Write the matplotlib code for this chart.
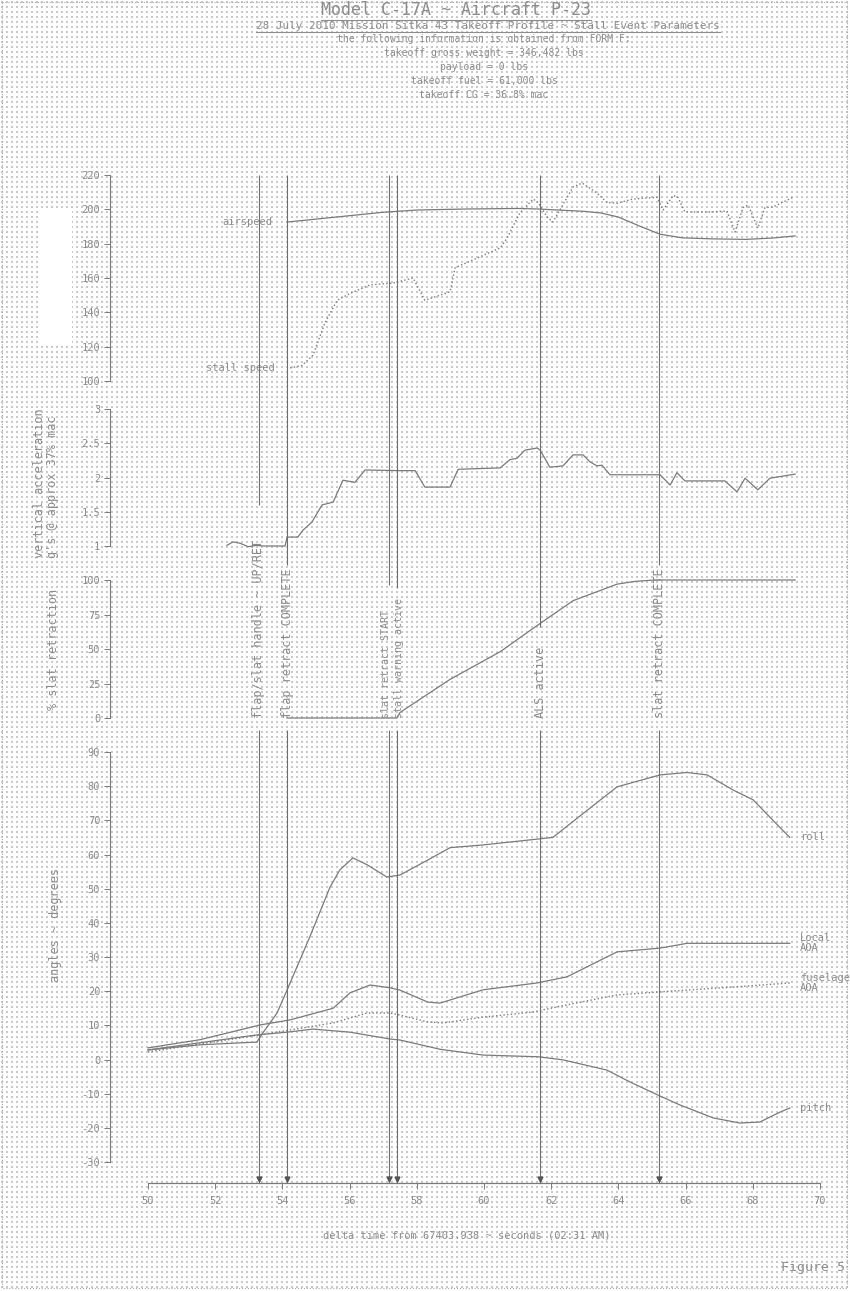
import numpy as np
import matplotlib
matplotlib.use("Agg")
import matplotlib.pyplot as plt
import matplotlib.transforms as mtransforms
from matplotlib.patches import Rectangle
from matplotlib.lines import Line2D

# ---- datos ----
event_t = [53.30, 54.14, 57.17, 57.41, 61.67, 65.21]
event_labels = ["flap/slat handle ~ UP/RET", "flap retract COMPLETE", "slat retract START",
                "stall warning active", "ALS active", "slat retract COMPLETE"]

airspeed_t = [54.14, 55.0, 56.0, 57.0, 58.0, 59.5, 61.0, 61.6, 62.3, 63.0, 63.5, 64.0,
              64.6, 65.24, 65.9, 66.8, 67.8, 68.6, 69.26]
airspeed_v = [192.6, 194.3, 196.3, 198.3, 199.6, 200.2, 200.5, 200.2, 199.5, 198.8, 197.8,
              195.5, 190.5, 185.5, 183.4, 182.8, 182.5, 183.3, 184.5]

stall_t = [54.23, 54.58, 54.91, 55.27, 55.63, 56.01, 56.61, 57.29, 57.89, 58.24, 58.99,
           59.14, 60.48, 60.68, 61.07, 61.46, 61.61, 61.88, 62.05, 62.26, 62.65, 62.92,
           63.36, 63.66, 63.96, 64.43, 65.15, 65.33, 65.63, 65.77, 65.98, 66.73, 67.23,
           67.47, 67.71, 67.86, 68.15, 68.36, 68.6, 69.2]
stall_v = [107.6, 109.0, 115.0, 134.0, 147.0, 151.0, 156.0, 157.0, 160.0, 147.0, 152.0,
           166.0, 177.5, 183.0, 198.0, 206.0, 204.0, 195.5, 192.6, 199.6, 213.0, 215.3,
           209.5, 204.0, 203.5, 206.0, 207.0, 199.6, 208.0, 207.0, 198.5, 198.5, 199.0,
           186.8, 201.0, 202.5, 189.0, 201.0, 201.4, 207.0]

vacc_t = [52.35, 52.53, 52.74, 52.98, 53.24, 53.42, 54.08, 54.14, 54.46, 54.61, 54.88,
          55.18, 55.51, 55.71, 55.8, 56.16, 56.46, 57.5, 57.95, 58.24, 58.99, 59.23, 60.48,
          60.77, 60.98, 61.22, 61.58, 61.67, 61.96, 62.35, 62.65, 62.95, 63.15, 63.36,
          63.51, 63.75, 65.24, 65.54, 65.74, 65.98, 67.17, 67.53, 67.77, 68.15, 68.51,
          68.9, 69.26]
vacc_v = [1.01, 1.06, 1.04, 0.99, 1.01, 1.0, 1.0, 1.13, 1.13, 1.23, 1.35, 1.6, 1.64, 1.86,
          1.96, 1.93, 2.11, 2.1, 2.1, 1.86, 1.86, 2.12, 2.14, 2.26, 2.28, 2.4, 2.43, 2.4,
          2.15, 2.17, 2.33, 2.33, 2.23, 2.17, 2.18, 2.04, 2.04, 1.89, 2.07, 1.95, 1.95,
          1.79, 1.99, 1.82, 1.99, 2.02, 2.05]

slat_t = [54.14, 57.41, 57.5, 58.99, 60.48, 61.58, 62.65, 63.96, 64.5, 65.07, 69.26]
slat_v = [0, 0, 4, 28, 48, 67, 85, 97, 99, 100, 100]

roll_t = [50.0, 51.55, 53.24, 53.42, 53.84, 54.23, 54.82, 55.42, 55.71, 56.1, 56.52, 57.11,
          57.5, 58.33, 58.99, 59.97, 61.58, 62.05, 62.95, 63.96, 65.24, 66.04, 66.64,
          67.41, 68.01, 68.6, 69.1]
roll_v = [2.8, 4.3, 5.1, 7.8, 13.6, 22.4, 36.0, 50.5, 55.5, 59.0, 57.0, 53.4, 54.0, 58.4,
          62.0, 62.8, 64.5, 65.0, 72.0, 79.8, 83.3, 84.0, 83.3, 78.9, 76.0, 70.0, 65.0]

laoa_t = [50.0, 51.55, 53.33, 54.23, 55.51, 56.01, 56.61, 57.2, 57.5, 58.33, 58.69, 59.97,
          61.58, 62.47, 63.96, 65.24, 66.04, 67.41, 69.1]
laoa_v = [3.4, 5.8, 10.1, 11.6, 15.0, 19.5, 21.8, 21.0, 20.3, 16.8, 16.5, 20.4, 22.4,
          24.2, 31.5, 32.6, 34.0, 34.0, 34.0]

faoa_t = [50.0, 53.33, 55.51, 56.52, 57.2, 57.5, 58.33, 58.78, 59.97, 61.46, 62.47,
          63.96, 65.24, 67.41, 69.1]
faoa_v = [2.2, 7.2, 10.7, 13.6, 13.6, 13.0, 11.0, 10.7, 12.4, 13.9, 16.0, 18.9, 19.8,
          21.2, 22.4]

pitch_t = [50.0, 53.24, 54.14, 54.91, 56.01, 57.2, 57.5, 58.69, 59.97, 61.61, 62.35,
           63.66, 64.35, 65.24, 65.83, 66.82, 67.62, 68.21, 68.81, 69.1]
pitch_v = [2.8, 7.2, 8.0, 8.9, 8.0, 6.0, 5.7, 3.0, 1.3, 0.8, -0.1, -3.1, -6.6, -10.7,
           -13.3, -17.1, -18.6, -18.3, -15.4, -14.2]

title1 = "Model C-17A ~ Aircraft P-23"
title2 = "28 July 2010 Mission Sitka 43 Takeoff Profile ~ Stall Event Parameters"
info = ["the following information is obtained from FORM F:",
        "takeoff gross weight = 346,482 lbs",
        "payload = 0 lbs",
        "takeoff fuel = 61,000 lbs",
        "takeoff CG = 36.8% mac"]

# ---- estilo ----
plt.rcParams['font.family'] = ['DejaVu Sans Mono']
LINE = '#7a7a7a'
TXT = '#8c8c8c'
W, H = 850, 1291

fig = plt.figure(figsize=(8.5, 12.91), dpi=100)
fig.patch.set_facecolor('white')


def box(x0, y0, x1, y1):
    # caja en pixeles -> coordenadas de figura
    return [x0 / W, 1 - y1 / H, (x1 - x0) / W, (y1 - y0) / H]


# fondo tipo papel punteado
bg = fig.add_axes([0, 0, 1, 1], zorder=-5)
bg.set_xlim(0, W)
bg.set_ylim(H, 0)
bg.axis('off')
gx, gy = np.meshgrid(np.arange(2, W, 5), np.arange(2, H, 5))
bg.scatter(gx.ravel(), gy.ravel(), s=0.9, c='#c9c9c9', marker='s', linewidths=0)
bg.add_patch(Rectangle((38, 208), 34, 138, fc='white', ec='none', zorder=3))
bg.add_patch(Rectangle((2, 2), W - 5, H - 5, fill=False, ec='#a8a8a8', lw=0.8, ls=':'))

X0, X1 = 110, 823
xlim = (50 + (X0 - 148) / 33.6, 50 + (X1 - 148) / 33.6)


def panel(top, bottom, ylim, ticks, ticklabels):
    ax = fig.add_axes(box(X0, top, X1, bottom))
    ax.set_xlim(*xlim)
    ax.set_ylim(*ylim)
    ax.patch.set_alpha(0)
    for s in ['top', 'right', 'bottom']:
        ax.spines[s].set_visible(False)
    ax.spines['left'].set_color(LINE)
    ax.spines['left'].set_linewidth(0.8)
    ax.spines['left'].set_bounds(ticks[0], ticks[-1])
    ax.set_xticks([])
    ax.set_yticks(ticks)
    ax.set_yticklabels(ticklabels)
    ax.tick_params(axis='y', direction='out', length=4, width=0.7, color=LINE,
                   labelcolor=TXT, labelsize=7.5, pad=3)
    return ax


kw = dict(color=LINE, lw=0.9, clip_on=False)

# panel 1: velocidades
ax1 = panel(175, 381, (100, 220), list(range(100, 221, 20)),
            [str(v) for v in range(100, 221, 20)])
ax1.plot(airspeed_t, airspeed_v, **kw)
ax1.plot(stall_t, stall_v, color=LINE, lw=1.0, ls=':', clip_on=False)
ax1.text(airspeed_t[0] - 0.45, airspeed_v[0], "airspeed", ha='right', va='center',
         fontsize=7.5, color=TXT)
ax1.text(stall_t[0] - 0.45, stall_v[0], "stall speed", ha='right', va='center',
         fontsize=7.5, color=TXT)

# panel 2: aceleracion vertical
ax2 = panel(409, 546, (1, 3), [1, 1.5, 2, 2.5, 3], ["1", "1.5", "2", "2.5", "3"])
ax2.plot(vacc_t, vacc_v, **kw)

# panel 3: retraccion de slats
ax3 = panel(580, 718, (0, 100), [0, 25, 50, 75, 100], ["0", "25", "50", "75", "100"])
ax3.plot(slat_t, slat_v, **kw)
# los dos eventos casi juntos se separan un poco
shift_px = [0, 0, -2.5, 2.5, 0, 0]
size_ev = [8.5, 8.5, 7.2, 7.2, 8.5, 8.5]
for t, lab, dx, fs in zip(event_t, event_labels, shift_px, size_ev):
    tr = ax3.transData + mtransforms.ScaledTranslation(dx / 100, 0, fig.dpi_scale_trans)
    ax3.text(t, 0, lab, rotation=90, ha='center', va='bottom', fontsize=fs,
             color=TXT, transform=tr)

# panel 4: angulos
ax4 = panel(752, 1183, (-30 - 21 / 3.417, 90), list(range(-30, 91, 10)),
            [str(v) for v in range(-30, 91, 10)])
ax4.spines['bottom'].set_visible(True)
ax4.spines['bottom'].set_color(LINE)
ax4.spines['bottom'].set_linewidth(0.9)
ax4.spines['bottom'].set_bounds(50, 70)
ax4.set_xticks(list(range(50, 71, 2)))
ax4.set_xticklabels([str(v) for v in range(50, 71, 2)])
ax4.tick_params(axis='x', direction='out', length=4, width=0.7, color=LINE,
                labelcolor=TXT, labelsize=7.5, pad=5)
ax4.plot(roll_t, roll_v, **kw)
ax4.plot(laoa_t, laoa_v, **kw)
ax4.plot(faoa_t, faoa_v, color=LINE, lw=1.0, ls=':', clip_on=False)
ax4.plot(pitch_t, pitch_v, **kw)
ax4.text(roll_t[-1] + 0.3, roll_v[-1], "roll", ha='left', va='center', fontsize=7.5, color=TXT)
ax4.text(laoa_t[-1] + 0.3, laoa_v[-1], "Local\nAOA", ha='left', va='center',
         fontsize=7.5, color=TXT, linespacing=1.0)
ax4.text(faoa_t[-1] + 0.3, faoa_v[-1], "fuselage\nAOA", ha='left', va='center',
         fontsize=7.5, color=TXT, linespacing=1.0)
ax4.text(pitch_t[-1] + 0.3, pitch_v[-1], "pitch", ha='left', va='center', fontsize=7.5, color=TXT)
ax4.set_xlabel("delta time from 67403.938 ~ seconds (02:31 AM)", fontsize=7.5,
               color=TXT, labelpad=18)

# lineas de eventos (con hueco donde va el texto)
ev = fig.add_axes(box(X0, 175, X1, 1183))
ev.set_xlim(*xlim)
ev.set_ylim(1183, 175)
ev.axis('off')
gap_top = [505, 565, 585, 588, 627, 565]
ev.vlines(event_t, 175, gap_top, color='#6e6e6e', lw=0.8)
ev.vlines(event_t, 730, 1183, color='#6e6e6e', lw=0.8)
ev.plot(event_t, [1179] * len(event_t), 'v', ms=3.5, color='#555555', clip_on=False)

# etiquetas de ejes y
fig.text(40 / W, 1 - 558 / H, "vertical acceleration", rotation=90, ha='center',
         va='bottom', fontsize=8.5, color=TXT)
fig.text(53 / W, 1 - 558 / H, "g's @ approx 37% mac", rotation=90, ha='center',
         va='bottom', fontsize=8.5, color=TXT)
fig.text(54 / W, 1 - 710 / H, "% slat retraction", rotation=90, ha='center',
         va='bottom', fontsize=8.5, color=TXT)
fig.text(56 / W, 1 - 925 / H, "angles ~ degrees", rotation=90, ha='center',
         va='center', fontsize=8.5, color=TXT)

# titulos
t1 = fig.text(456 / W, 1 - 10 / H, title1, ha='center', va='center', fontsize=12, color=TXT)
t2 = fig.text(488 / W, 1 - 26 / H, title2, ha='center', va='center', fontsize=7.9, color=TXT)
for i, s in enumerate(info):
    fig.text(484 / W, 1 - (39 + 14 * i) / H, s, ha='center', va='center',
             fontsize=7, color=TXT)
fig.text(845 / W, 1 - 1268 / H, "Figure 5", ha='right', va='center', fontsize=9.5, color=TXT)

# subrayado de titulos
fig.canvas.draw()
for t in (t1, t2):
    bb = t.get_window_extent()
    y = (bb.y0 - 1) / fig.bbox.height
    fig.add_artist(Line2D([bb.x0 / fig.bbox.width, bb.x1 / fig.bbox.width], [y, y],
                          color=TXT, lw=0.8))

fig.savefig("out.png", dpi=100)
